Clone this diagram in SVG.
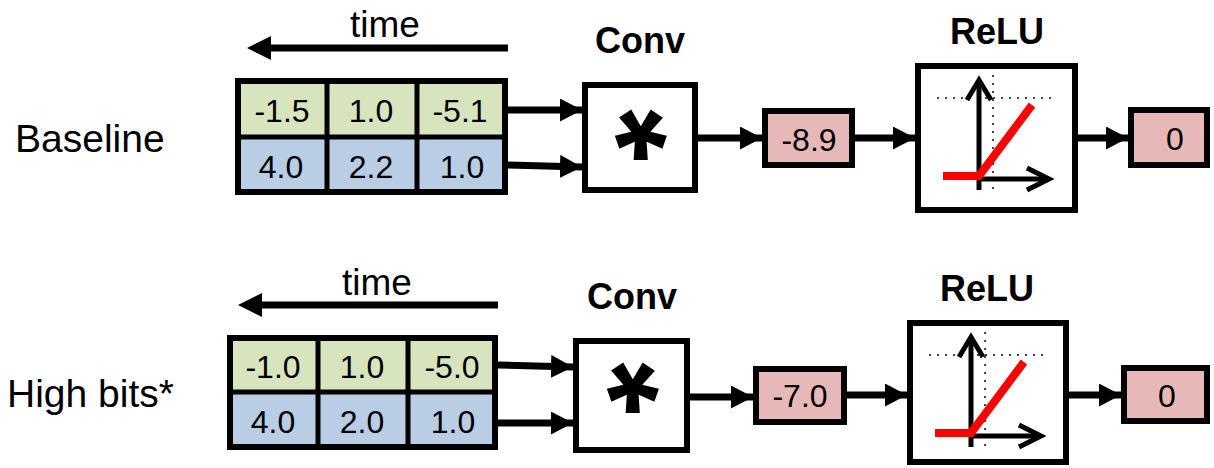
<svg xmlns="http://www.w3.org/2000/svg" xmlns:xlink="http://www.w3.org/1999/xlink" width="1214" height="468" viewBox="0 0 1214 468">
<style>
text{font-family:"Liberation Sans",Arial,sans-serif;fill:#000}
.lbl{font-size:39px}
.cell{font-size:32px;text-anchor:middle}
.time{font-size:37px;text-anchor:middle}
.title{font-size:36px;font-weight:bold;text-anchor:middle}
.ast{font-size:135px;font-weight:bold;text-anchor:middle}
.box{fill:#fff;stroke:#000;stroke-width:6}
.green{fill:#d7e4bd}
.blue{fill:#b9cde5}
.pink{fill:#e6b9b8;stroke:#000;stroke-width:6}
.grid{fill:none;stroke:#000;stroke-width:6}
.div{stroke:#000;stroke-width:5}
.conn{stroke:#000;stroke-width:7;fill:none}
.ax{stroke:#000;stroke-width:5;fill:none}
.dot{stroke:#444;stroke-width:2;stroke-dasharray:2 6;fill:none}
.relu{stroke:#ff0000;stroke-width:8;fill:none}
</style>
<defs>
<marker id="ah" markerUnits="userSpaceOnUse" markerWidth="24" markerHeight="24" refX="22" refY="11.5" orient="auto">
<path d="M0,0 L22,11.5 L0,23 z" fill="#000"/>
</marker>
<g id="icon">
<line class="dot" x1="22" y1="35" x2="136" y2="35"/>
<line class="dot" x1="78" y1="12" x2="78" y2="126"/>
<line class="ax" x1="64" y1="17" x2="64" y2="127"/>
<polyline class="ax" points="52,37 64,17 76,37"/>
<line class="ax" x1="64" y1="116" x2="134" y2="116"/>
<polyline class="ax" points="112,105 134,116 112,127"/>
<polyline class="relu" points="28,113 64,113 117,42"/>
</g>
</defs>

<g id="label-baseline"><text class="lbl" x="15" y="152">Baseline</text></g>
<g id="label-highbits"><text class="lbl" x="7" y="407">High bits*</text></g>

<!-- Top row -->
<g id="time-top">
<text class="time" x="385" y="37">time</text>
<line class="conn" x1="508" y1="48" x2="268" y2="48" stroke-width="8"/>
<path d="M247,48 L271,36 L271,60 z" fill="#000"/>
</g>
<g id="grid-top">
<rect class="green" x="238" y="81" width="267" height="56"/>
<rect class="blue" x="238" y="137" width="267" height="55"/>
<line class="div" x1="327" y1="81" x2="327" y2="192"/>
<line class="div" x1="417" y1="81" x2="417" y2="192"/>
<line class="div" x1="238" y1="137" x2="505" y2="137"/>
<rect class="grid" x="238" y="81" width="267" height="111"/>
<text class="cell" x="282" y="122">-1.5</text>
<text class="cell" x="371" y="122">1.0</text>
<text class="cell" x="460" y="122">-5.1</text>
<text class="cell" x="281" y="178">4.0</text>
<text class="cell" x="371" y="178">2.2</text>
<text class="cell" x="462" y="178">1.0</text>
</g>
<g id="conv-top">
<text class="title" x="640" y="53">Conv</text>
<rect class="box" x="585" y="85" width="110" height="105"/>
<text class="ast" x="641" y="207" transform="rotate(180 641 137)">*</text>
</g>
<g id="val-top"><rect class="pink" x="765" y="111" width="87" height="54"/><text class="cell" x="809" y="151">-8.9</text></g>
<g id="relu-top">
<text class="title" x="997" y="44">ReLU</text>
<rect class="box" x="918" y="66" width="157" height="144"/>
<use xlink:href="#icon" href="#icon" transform="translate(915,63)"/>
</g>
<g id="out-top"><rect class="pink" x="1131" y="110" width="76" height="55"/><text class="cell" x="1175" y="150">0</text></g>

<!-- Bottom row -->
<g id="time-bottom">
<text class="time" x="377" y="295">time</text>
<line class="conn" x1="498" y1="305" x2="260" y2="305" stroke-width="8"/>
<path d="M238,305 L262,293 L262,317 z" fill="#000"/>
</g>
<g id="grid-bottom">
<rect class="green" x="230" y="338" width="265" height="54"/>
<rect class="blue" x="230" y="392" width="265" height="55"/>
<line class="div" x1="318" y1="338" x2="318" y2="447"/>
<line class="div" x1="408" y1="338" x2="408" y2="447"/>
<line class="div" x1="230" y1="392" x2="495" y2="392"/>
<rect class="grid" x="230" y="338" width="265" height="109"/>
<text class="cell" x="273" y="378">-1.0</text>
<text class="cell" x="362" y="378">1.0</text>
<text class="cell" x="452" y="378">-5.0</text>
<text class="cell" x="273" y="433">4.0</text>
<text class="cell" x="362" y="433">2.0</text>
<text class="cell" x="453" y="433">1.0</text>
</g>
<g id="conv-bottom">
<text class="title" x="632" y="309">Conv</text>
<rect class="box" x="576" y="341" width="111" height="109"/>
<text class="ast" x="633" y="460" transform="rotate(180 633 390)">*</text>
</g>
<g id="val-bottom"><rect class="pink" x="756" y="369" width="88" height="53"/><text class="cell" x="800" y="407">-7.0</text></g>
<g id="relu-bottom">
<text class="title" x="987" y="301">ReLU</text>
<rect class="box" x="910" y="323" width="156" height="139"/>
<use xlink:href="#icon" href="#icon" transform="translate(907,320)"/>
</g>
<g id="out-bottom"><rect class="pink" x="1124" y="368" width="83" height="53"/><text class="cell" x="1167" y="407">0</text></g>

<g id="connectors">
<line class="conn" x1="508" y1="110" x2="582" y2="110" marker-end="url(#ah)"/>
<line class="conn" x1="508" y1="165" x2="582" y2="167" marker-end="url(#ah)"/>
<line class="conn" x1="698" y1="138" x2="762" y2="138" marker-end="url(#ah)"/>
<line class="conn" x1="855" y1="138" x2="915" y2="138" marker-end="url(#ah)"/>
<line class="conn" x1="1078" y1="138" x2="1128" y2="138" marker-end="url(#ah)"/>
<line class="conn" x1="498" y1="365" x2="573" y2="367" marker-end="url(#ah)"/>
<line class="conn" x1="498" y1="423" x2="573" y2="423" marker-end="url(#ah)"/>
<line class="conn" x1="690" y1="397" x2="753" y2="397" marker-end="url(#ah)"/>
<line class="conn" x1="847" y1="395" x2="907" y2="395" marker-end="url(#ah)"/>
<line class="conn" x1="1069" y1="395" x2="1121" y2="395" marker-end="url(#ah)"/>
</g>
</svg>
